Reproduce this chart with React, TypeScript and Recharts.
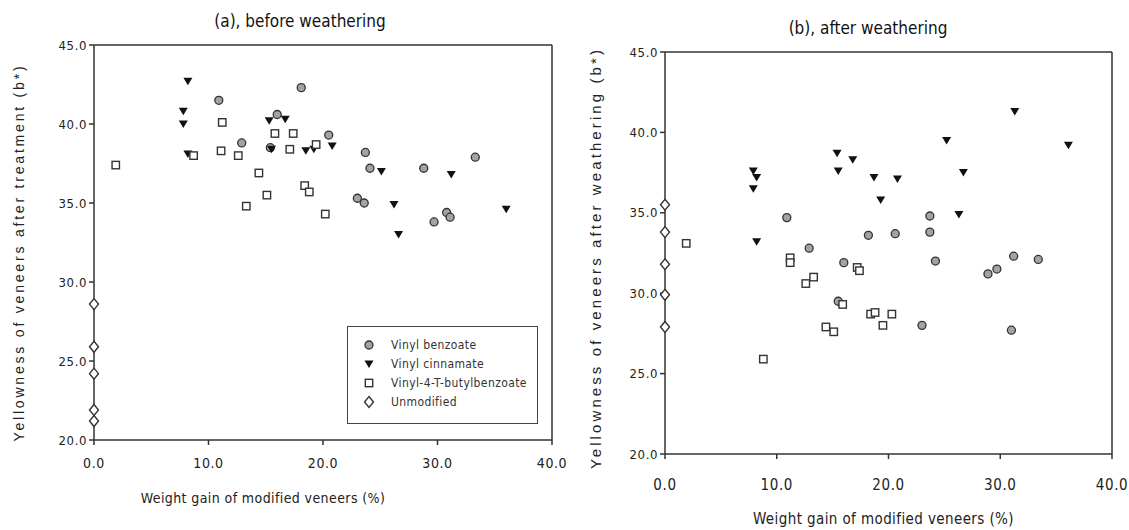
import React from 'react';
import {
  ScatterChart,
  Scatter,
  XAxis,
  YAxis,
  ReferenceLine,
  Legend,
} from 'recharts';

// (a) before weathering
const BENZOATE_BEFORE = [
  { x: 10.9, y: 41.5 }, { x: 18.1, y: 42.3 }, { x: 16.0, y: 40.6 }, { x: 12.9, y: 38.8 },
  { x: 15.4, y: 38.5 }, { x: 20.5, y: 39.3 }, { x: 23.7, y: 38.2 }, { x: 24.1, y: 37.2 },
  { x: 23.0, y: 35.3 }, { x: 23.6, y: 35.0 }, { x: 28.8, y: 37.2 }, { x: 33.3, y: 37.9 },
  { x: 29.7, y: 33.8 }, { x: 30.8, y: 34.4 }, { x: 31.1, y: 34.1 },
];
const CINNAMATE_BEFORE = [
  { x: 8.2, y: 42.7 }, { x: 7.8, y: 40.8 }, { x: 7.8, y: 40.0 }, { x: 8.2, y: 38.1 },
  { x: 15.3, y: 40.2 }, { x: 16.7, y: 40.3 }, { x: 15.5, y: 38.4 }, { x: 18.5, y: 38.3 },
  { x: 19.2, y: 38.4 }, { x: 20.8, y: 38.6 }, { x: 25.1, y: 37.0 }, { x: 31.2, y: 36.8 },
  { x: 26.2, y: 34.9 }, { x: 26.6, y: 33.0 }, { x: 36.0, y: 34.6 },
];
const BUTYL_BEFORE = [
  { x: 1.9, y: 37.4 }, { x: 8.7, y: 38.0 }, { x: 11.2, y: 40.1 }, { x: 11.1, y: 38.3 },
  { x: 12.6, y: 38.0 }, { x: 14.4, y: 36.9 }, { x: 13.3, y: 34.8 }, { x: 15.1, y: 35.5 },
  { x: 15.8, y: 39.4 }, { x: 17.4, y: 39.4 }, { x: 17.1, y: 38.4 }, { x: 19.4, y: 38.7 },
  { x: 18.4, y: 36.1 }, { x: 18.8, y: 35.7 }, { x: 20.2, y: 34.3 },
];
const UNMODIFIED_BEFORE = [
  { x: 0, y: 28.6 }, { x: 0, y: 25.9 }, { x: 0, y: 24.2 }, { x: 0, y: 21.9 }, { x: 0, y: 21.2 },
];

// (b) after weathering
const BENZOATE_AFTER = [
  { x: 10.9, y: 34.7 }, { x: 12.9, y: 32.8 }, { x: 16.0, y: 31.9 }, { x: 18.2, y: 33.6 },
  { x: 20.6, y: 33.7 }, { x: 15.5, y: 29.5 }, { x: 23.7, y: 34.8 }, { x: 23.7, y: 33.8 },
  { x: 24.2, y: 32.0 }, { x: 28.9, y: 31.2 }, { x: 29.7, y: 31.5 }, { x: 31.2, y: 32.3 },
  { x: 33.4, y: 32.1 }, { x: 23.0, y: 28.0 }, { x: 31.0, y: 27.7 },
];
const CINNAMATE_AFTER = [
  { x: 7.9, y: 37.6 }, { x: 8.2, y: 37.2 }, { x: 7.9, y: 36.5 }, { x: 8.2, y: 33.2 },
  { x: 15.4, y: 38.7 }, { x: 15.5, y: 37.6 }, { x: 16.8, y: 38.3 }, { x: 18.7, y: 37.2 },
  { x: 19.3, y: 35.8 }, { x: 20.8, y: 37.1 }, { x: 25.2, y: 39.5 }, { x: 26.7, y: 37.5 },
  { x: 26.3, y: 34.9 }, { x: 31.3, y: 41.3 }, { x: 36.1, y: 39.2 },
];
const BUTYL_AFTER = [
  { x: 1.9, y: 33.1 }, { x: 11.2, y: 32.2 }, { x: 11.2, y: 31.9 }, { x: 12.6, y: 30.6 },
  { x: 13.3, y: 31.0 }, { x: 17.2, y: 31.6 }, { x: 17.4, y: 31.4 }, { x: 8.8, y: 25.9 },
  { x: 15.9, y: 29.3 }, { x: 14.4, y: 27.9 }, { x: 15.1, y: 27.6 }, { x: 18.4, y: 28.7 },
  { x: 18.8, y: 28.8 }, { x: 19.5, y: 28.0 }, { x: 20.3, y: 28.7 },
];
const UNMODIFIED_AFTER = [
  { x: 0, y: 35.5 }, { x: 0, y: 33.8 }, { x: 0, y: 31.8 }, { x: 0, y: 29.9 }, { x: 0, y: 27.9 },
];

const X_TICKS = [0, 10, 20, 30, 40];
const Y_TICKS = [20, 25, 30, 35, 40, 45];
const SERIES_NAMES = ['Vinyl benzoate', 'Vinyl cinnamate', 'Vinyl-4-T-butylbenzoate', 'Unmodified'];

const AXIS = '#333';
const NARROW = '"Liberation Sans Narrow", "DejaVu Sans Condensed", sans-serif';

type Kind = 'circle' | 'triangle' | 'square' | 'diamond';

function Marker({ kind, cx, cy }: { kind: Kind; cx: number; cy: number }) {
  if (kind === 'circle') {
    return <circle cx={cx} cy={cy} r={4} fill="#a3a3a3" stroke="#333" strokeWidth={1.3} />;
  }
  if (kind === 'triangle') {
    return <path d={`M${cx - 4.5},${cy - 3.5}L${cx + 4.5},${cy - 3.5}L${cx},${cy + 4}Z`} fill="#111" />;
  }
  if (kind === 'square') {
    return <rect x={cx - 3.7} y={cy - 3.7} width={7.4} height={7.4} fill="#fff" stroke="#333" strokeWidth={1.4} />;
  }
  return (
    <path
      d={`M${cx},${cy - 5.5}L${cx + 4.5},${cy}L${cx},${cy + 5.5}L${cx - 4.5},${cy}Z`}
      fill="#fff"
      stroke="#333"
      strokeWidth={1.4}
    />
  );
}

const KINDS: Kind[] = ['circle', 'triangle', 'square', 'diamond'];

const LegendBox = () => (
  <div
    style={{
      border: '1px solid #444',
      background: '#fff',
      padding: '8px 0 0 14px',
      boxSizing: 'border-box',
      width: 191,
      height: 98,
      fontFamily: NARROW,
      fontSize: 12,
      letterSpacing: 0.4,
      color: '#333',
    }}
  >
    {SERIES_NAMES.map((name, i) => (
      <div key={name} style={{ display: 'flex', alignItems: 'center', height: 19 }}>
        <svg width={14} height={14} style={{ marginRight: 15 }}>
          <Marker kind={KINDS[i]} cx={7} cy={7} />
        </svg>
        <span>{name}</span>
      </div>
    ))}
  </div>
);

interface PanelProps {
  data: { x: number; y: number }[][];
  width: number;
  height: number;
  margin: { top: number; right: number; bottom: number; left: number };
  yTitle: string;
  yTitleOffset: number;
  yTitleDy: number;
  yTitleSize: number;
  yTitleSpacing: number;
  xTitleOffset: number;
  xTitleDx: number;
  xTitleSize: number;
  xTickMargin: number;
  xTickSize: number;
  showLegend?: boolean;
}

function Panel(p: PanelProps) {
  return (
    <ScatterChart width={p.width} height={p.height} margin={p.margin}>
      <XAxis
        type="number"
        dataKey="x"
        domain={[0, 40]}
        ticks={X_TICKS}
        tickFormatter={(v: number) => v.toFixed(1)}
        stroke={AXIS}
        strokeWidth={1.5}
        tickSize={5}
        tickMargin={p.xTickMargin}
        height={30}
        tick={{ fill: '#222', fontSize: p.xTickSize, fontFamily: NARROW, letterSpacing: 0.6 }}
        label={{
          value: 'Weight gain of modified veneers (%)',
          position: 'bottom',
          offset: p.xTitleOffset,
          dx: p.xTitleDx,
          style: { fill: '#222', fontSize: p.xTitleSize, fontFamily: NARROW, letterSpacing: 0.4 },
        }}
      />
      <YAxis
        type="number"
        dataKey="y"
        domain={[20, 45]}
        ticks={Y_TICKS}
        tickFormatter={(v: number) => v.toFixed(1)}
        stroke={AXIS}
        strokeWidth={1.5}
        tickSize={5}
        tickMargin={2}
        width={60}
        tick={{ fill: '#222', fontSize: 13, fontFamily: NARROW, letterSpacing: 0.6 }}
        label={{
          value: p.yTitle,
          angle: -90,
          position: 'insideLeft',
          offset: p.yTitleOffset,
          dy: p.yTitleDy,
          style: {
            textAnchor: 'middle',
            fill: '#222',
            fontSize: p.yTitleSize,
            fontFamily: '"Liberation Sans", Arial, sans-serif',
            letterSpacing: p.yTitleSpacing,
          },
        }}
      />
      <ReferenceLine y={45} stroke={AXIS} strokeWidth={1.5} />
      <ReferenceLine x={40} stroke={AXIS} strokeWidth={1.5} />
      {p.data.map((d, i) => (
        <Scatter
          key={SERIES_NAMES[i]}
          name={SERIES_NAMES[i]}
          data={d}
          isAnimationActive={false}
          shape={(s: any) => <Marker kind={KINDS[i]} cx={s.cx} cy={s.cy} />}
        />
      ))}
      {p.showLegend && (
        <Legend
          layout="vertical"
          align="center"
          verticalAlign="middle"
          content={() => <LegendBox />}
          wrapperStyle={{ left: 347, top: 326, width: 191, height: 98 }}
        />
      )}
    </ScatterChart>
  );
}

const titleStyle: React.CSSProperties = {
  position: 'absolute',
  fontFamily: NARROW,
  fontSize: 17,
  color: '#111',
  transform: 'translate(-50%, -50%)',
  whiteSpace: 'nowrap',
};

export default function App() {
  return (
    <div style={{ position: 'absolute', left: 0, top: 0, width: 1129, height: 530, background: '#fff' }}>
      <div style={{ ...titleStyle, left: 300, top: 21 }}>(a), before weathering</div>
      <div style={{ ...titleStyle, left: 868, top: 28 }}>(b), after weathering</div>
      <div style={{ position: 'absolute', left: 0, top: 0 }}>
        <Panel
          data={[BENZOATE_BEFORE, CINNAMATE_BEFORE, BUTYL_BEFORE, UNMODIFIED_BEFORE]}
          width={570}
          height={530}
          margin={{ top: 45, right: 18, bottom: 60, left: 34 }}
          yTitle="Yellowness of veneers after treatment (b*)"
          yTitleOffset={-15}
          yTitleDy={10}
          yTitleSize={14}
          yTitleSpacing={2.8}
          xTitleOffset={23}
          xTitleDx={-60}
          xTitleSize={14}
          xTickMargin={13}
          xTickSize={14}
          showLegend
        />
      </div>
      <div style={{ position: 'absolute', left: 570, top: 0 }}>
        <Panel
          data={[BENZOATE_AFTER, CINNAMATE_AFTER, BUTYL_AFTER, UNMODIFIED_AFTER]}
          width={559}
          height={530}
          margin={{ top: 52, right: 17, bottom: 46, left: 35 }}
          yTitle="Yellowness of veneers after weathering (b*)"
          yTitleOffset={-9}
          yTitleDy={5}
          yTitleSize={15}
          yTitleSpacing={3.1}
          xTitleOffset={29}
          xTitleDx={-5}
          xTitleSize={15}
          xTickMargin={20}
          xTickSize={15}
        />
      </div>
    </div>
  );
}
